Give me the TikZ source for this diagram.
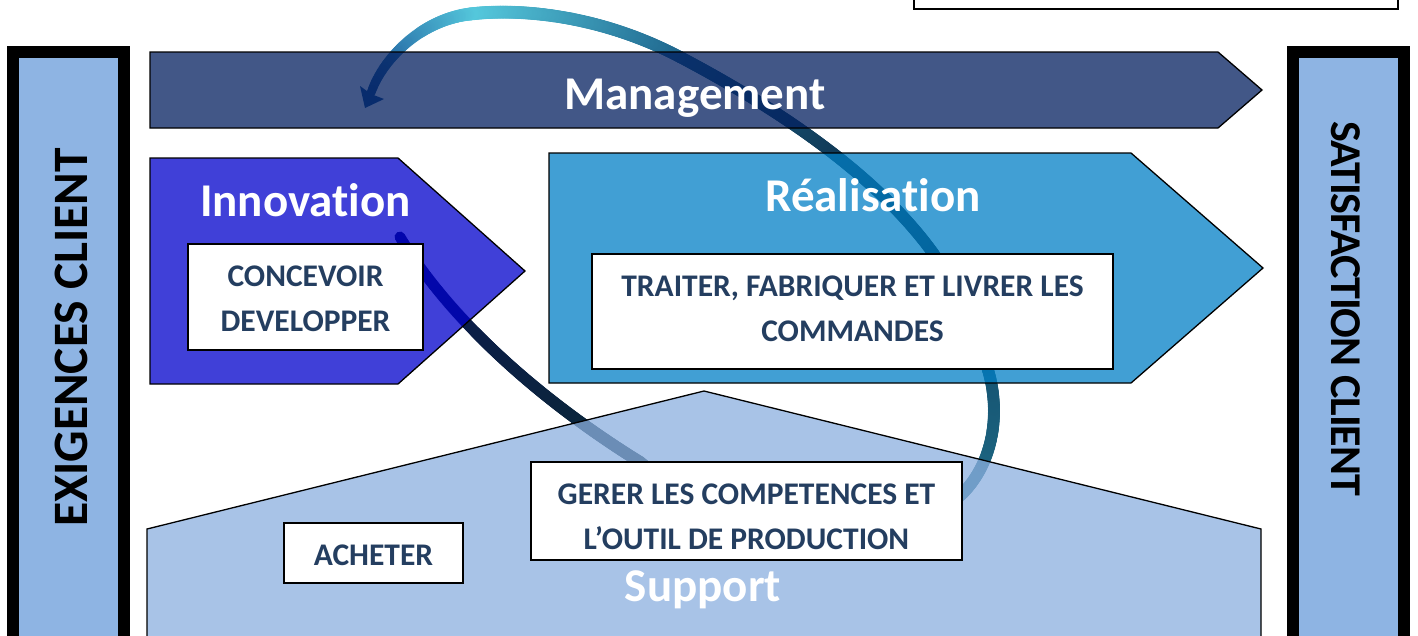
\documentclass[tikz,border=0pt]{standalone}
\usepackage{fontspec}
\setmainfont{Carlito}[Ligatures=NoCommon]
\usetikzlibrary{decorations.markings}
\definecolor{barfill}{RGB}{142,180,227}
\definecolor{mgmtc}{RGB}{3,32,96}
\definecolor{innoc}{RGB}{0,0,203}
\definecolor{realc}{RGB}{2,128,198}
\definecolor{suppc}{RGB}{140,176,224}
\definecolor{boxtxt}{RGB}{36,62,96}
\definecolor{ca}{RGB}{12,25,80}
\definecolor{cb}{RGB}{10,40,55}
\definecolor{cc}{RGB}{31,106,133}
\definecolor{cd}{RGB}{22,85,115}
\definecolor{ce}{RGB}{5,25,45}
\definecolor{cf}{RGB}{30,100,140}
\definecolor{cg}{RGB}{85,200,220}
\definecolor{ch}{RGB}{25,80,150}
\tikzset{
  procshape/.style={draw=black, line width=1.3pt, fill opacity=0.75, line join=miter},
  bar/.style={draw=black, line width=12pt, fill=barfill},
  whitebox/.style={draw=black, line width=2pt, fill=white, inner sep=0pt},
  boxtext/.style={text=boxtxt, font=\fontsize{31.5}{45}\selectfont\bfseries, align=center, inner sep=0pt},
  title/.style={text=white, font=\fontsize{47}{50}\selectfont\bfseries, anchor=base, inner sep=0pt},
  bartext/.style={text=black, font=\fontsize{49.5}{50}\selectfont\bfseries, inner sep=0pt},
  bartextb/.style={text=black, font=\fontsize{44}{50}\selectfont\bfseries\addfontfeatures{LetterSpace=-2.5}, inner sep=0pt},
  grad/.style n args={4}{
    postaction={decorate},
    decoration={markings,
      mark=between positions 0 and 1 step 1.5pt with {%
        \pgfmathsetmacro\gfr{(\pgfkeysvalueof{/pgf/decoration/mark info/sequence number}*1.5)/\pgfdecoratedpathlength}%
        \pgfmathtruncatemacro\gpc{min(100,\gfr*100)}%
        \pgfmathsetmacro\grr{#3+(#4-#3)*\gpc/100}%
        \fill[#2!\gpc!#1] (0,0) circle (\grr pt);
      }}}
}
\begin{document}
\begin{tikzpicture}[x=1pt,y=-1pt]
\useasboundingbox (0,0) rectangle (1418,635);
\fill[white] (0,0) rectangle (1418,635);
\clip (0,0) rectangle (1418,635);

% top-right box (cut by the top edge)
\node[whitebox, minimum width=484pt, minimum height=40pt, anchor=south west] (topbox) at (913,10) {};

% side bars
\draw[bar] (13,52) rectangle (124,660);
\draw[bar] (1293,52) rectangle (1404,660);
\node[bartext, rotate=90] (exig) at (71,337.5) {EXIGENCES CLIENT};
\node[bartextb, rotate=-90] (satis) at (1346,308.5) {SATISFACTION CLIENT};

% curved arrow (under the process shapes)
\path[grad={ca}{cb}{5.5}{6}] (400,237) .. controls (450,320) and (540,400) .. (640,462);
\path[grad={cb}{cc}{6}{6}] (640,462) .. controls (720,530) and (915,540) .. (963,493);
\path[grad={cc}{cd}{6}{6}] (963,493) .. controls (995,460) and (1000,410) .. (988,370);
\path[grad={cd}{ce}{6}{6}] (988,370) .. controls (975,320) and (955,285) .. (933,253);
\path[grad={ce}{cf}{6}{6}] (933,253) .. controls (880,180) and (790,115) .. (680,57);
\path[grad={cf}{cg}{6}{6.5}] (680,57) .. controls (600,15) and (520,8) .. (470,14);
\path[grad={cg}{ch}{6.5}{4.5}] (470,14) .. controls (420,20) and (382,60) .. (371,93);
\fill[ch] (365,108) -- (384,99) -- (371,94) -- (360,86) -- cycle;

% process shapes
\filldraw[procshape, fill=mgmtc] (150,52) -- (1218,52) -- (1262,90) -- (1218,128) -- (150,128) -- cycle;
\filldraw[procshape, fill=innoc] (150,158) -- (398,158) -- (525,271) -- (398,384) -- (150,384) -- cycle;
\filldraw[procshape, fill=realc] (549,153) -- (1131,153) -- (1263,268) -- (1131,383) -- (549,383) -- cycle;
\filldraw[procshape, fill=suppc] (147,700) -- (147,529) -- (704,391) -- (1261,529) -- (1261,700) -- cycle;

% titles
\node[title] (mgmt) at (695,109) {Management};
\node[title] (inno) at (305.5,216) {Innovation};
\node[title] (real) at (873,211) {Réalisation};
\node[title] (supp) at (703,601) {Support};

% activity boxes
\node[whitebox, minimum width=235pt, minimum height=106pt] (conc) at (305.5,297) {};
\node[whitebox, minimum width=521pt, minimum height=115pt] (trait) at (852.5,311.5) {};
\node[whitebox, minimum width=431pt, minimum height=98pt] (gerer) at (746.5,511) {};
\node[whitebox, minimum width=179pt, minimum height=60pt] (achet) at (373.5,553) {};

\node[boxtext] (conct) at (305.5,298.5) {CONCEVOIR\\DEVELOPPER};
\node[boxtext] (traitt) at (852.5,308.5) {TRAITER, FABRIQUER ET LIVRER LES\\COMMANDES};
\node[boxtext] (gerert) at (746.5,516.5) {GERER LES COMPETENCES ET\\L’OUTIL DE PRODUCTION};
\node[boxtext] (achett) at (373.5,555) {ACHETER};
\end{tikzpicture}
\end{document}
